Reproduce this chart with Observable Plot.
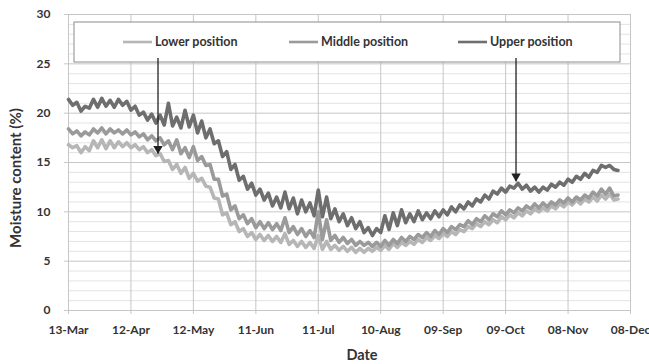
<!DOCTYPE html>
<html><head><meta charset="utf-8">
<script src="https://cdn.jsdelivr.net/npm/d3@7"></script>
<script src="https://cdn.jsdelivr.net/npm/@observablehq/plot@0.6"></script>
<style>
body{margin:0;background:#fff;}
#chart{width:649px;height:364px;overflow:hidden;}
</style></head><body><div id="chart"></div>
<script>
// Readings every 2 days starting 13-Mar
const startDate = "2011-03-13";
const stepDays = 2;
const lower = [16.8,16.5,16.7,16.0,16.6,16.2,17.2,16.5,17.3,16.4,17.2,16.5,17.1,16.6,17.0,16.5,16.8,16.3,16.6,16.0,
16.3,15.7,15.9,15.1,15.2,14.3,14.8,13.9,14.5,13.4,13.9,13.1,13.4,12.6,12.5,11.4,11.3,9.7,9.9,8.7,
9.0,8.0,8.3,7.5,7.9,7.2,7.7,7.1,7.6,7.0,7.5,6.9,7.8,6.7,7.1,6.5,7.0,6.4,6.9,6.3,
7.6,6.2,7.0,6.2,6.6,6.1,6.5,6.0,6.4,5.9,6.3,5.9,6.3,6.0,6.4,6.1,6.6,6.2,6.8,6.4,
6.9,6.6,7.0,6.7,7.2,6.9,7.4,7.1,7.6,7.3,7.8,7.5,8.0,7.7,8.2,8.0,8.5,8.3,8.8,8.5,
9.0,8.7,9.2,8.9,9.5,9.2,9.7,9.4,9.9,9.6,10.1,9.8,10.3,10.0,10.4,10.1,10.6,10.3,10.8,10.5,
11.0,10.7,11.2,10.8,11.3,11.0,11.5,11.1,11.7,11.3,11.8,11.2,11.3];
const middle = [18.4,17.9,18.2,17.7,18.1,17.8,18.4,18.0,18.5,17.9,18.4,18.0,18.3,17.9,18.3,17.8,18.1,17.6,17.9,17.3,
17.7,17.2,17.5,16.8,17.2,16.3,17.3,15.9,16.5,15.5,16.6,15.2,15.6,14.7,14.8,13.3,13.3,11.6,11.8,10.2,
10.6,9.3,9.7,8.8,9.3,8.4,9.0,8.3,8.9,8.2,8.8,8.1,9.4,7.9,8.5,7.7,8.3,7.5,8.1,7.4,
10.0,7.2,9.2,7.1,7.6,6.9,7.4,6.8,7.2,6.6,7.0,6.6,6.9,6.5,6.9,6.5,7.1,6.6,7.2,6.8,
7.4,7.0,7.5,7.2,7.7,7.4,7.9,7.5,8.1,7.7,8.3,7.9,8.5,8.2,8.7,8.5,9.1,8.7,9.3,9.0,
9.6,9.2,9.8,9.5,10.1,9.7,10.2,9.9,10.4,10.1,10.6,10.3,10.8,10.4,10.9,10.5,11.0,10.7,11.2,10.9,
11.4,11.0,11.5,11.2,11.7,11.4,12.0,11.6,12.3,11.8,12.4,11.6,11.7];
const upper = [21.4,20.8,21.1,20.2,20.7,20.5,21.4,20.6,21.5,20.7,21.3,20.6,21.4,20.8,21.2,20.3,20.7,19.8,20.1,19.3,
19.9,19.0,19.8,18.8,21.0,18.7,19.6,18.5,20.3,18.6,19.8,18.0,19.2,17.5,18.4,16.9,17.2,15.6,16.1,14.3,
14.8,13.2,13.6,12.3,12.9,11.7,12.3,11.2,11.9,10.6,11.5,10.4,12.0,10.3,11.4,9.8,11.2,10.0,10.9,9.6,
12.2,9.5,11.5,9.3,10.3,9.0,9.8,8.6,9.4,8.3,9.0,7.9,8.4,7.6,8.3,7.9,9.6,8.2,9.9,8.6,
10.2,8.9,9.8,9.0,10.1,9.2,9.9,9.3,10.1,9.5,10.2,9.7,10.5,10.0,10.7,10.3,11.0,10.6,11.3,11.0,
11.7,11.3,12.1,11.8,12.4,12.0,12.6,12.4,12.9,12.3,12.7,12.1,12.5,12.0,12.5,12.2,12.8,12.5,13.0,12.7,
13.3,13.0,13.6,13.3,13.9,13.5,14.2,14.0,14.7,14.5,14.7,14.3,14.2];
const seriesNames = ["Lower position", "Middle position", "Upper position"];
const seriesColors = ["#b6b6b6", "#9a9a9a", "#6e6e6e"];
const xTickDates = ["2011-03-13","2011-04-12","2011-05-12","2011-06-11","2011-07-11","2011-08-10","2011-09-09","2011-10-09","2011-11-08","2011-12-08"];
const yMajorTicks = [0, 5, 10, 15, 20, 25, 30];
const yMinorTicks = [1,2,3,4,6,7,8,9,11,12,13,14,16,17,18,19,21,22,23,24,26,27,28,29];
const arrowDates = ["2011-04-25", "2011-10-14"];
const arrowFrom = [25.6, 25.6];
const arrowTo = [15.9, 13.1];

const parse = d3.utcParse("%Y-%m-%d");
const t0 = parse(startDate);
const toRows = (vals) => vals.map((v, i) => ({date: d3.utcDay.offset(t0, i * stepDays), value: v}));
const seriesValues = [lower, middle, upper];
const tickDates = xTickDates.map(parse);
const arrows = arrowDates.map((d, i) => ({date: parse(d), y1: arrowFrom[i], y2: arrowTo[i]}));

const svg = Plot.plot({
  width: 649, height: 364,
  marginLeft: 68, marginRight: 19, marginTop: 14, marginBottom: 54,
  style: {fontFamily: "Lato, sans-serif", fontSize: "12px", fontWeight: "bold", color: "#333", background: "#fff"},
  x: {type: "utc", domain: [tickDates[0], tickDates[tickDates.length - 1]], ticks: tickDates,
      tickFormat: d3.utcFormat("%d-%b"), tickSize: 4, tickPadding: 11, label: null},
  y: {domain: [0, 30], ticks: yMajorTicks, tickSize: 4, tickPadding: 14, label: null},
  marks: [
    Plot.ruleY(yMinorTicks, {stroke: "#e3e3e3", strokeWidth: 1}),
    Plot.ruleY(yMajorTicks, {stroke: "#c6c6c6", strokeWidth: 1}),
    Plot.ruleX(tickDates, {stroke: "#c6c6c6", strokeWidth: 1}),
    ...seriesValues.map((vals, i) => Plot.line(toRows(vals), {x: "date", y: "value", stroke: seriesColors[i], strokeWidth: 3.6, strokeLinejoin: "round"})),
    Plot.link(arrows, {x1: "date", x2: "date", y1: "y1", y2: "y2", stroke: "#222", strokeWidth: 1.3}),
    Plot.dot(arrows, {x: "date", y: "y2", symbol: "triangle", rotate: 180, r: 3.5, dy: -5, fill: "#222", stroke: "none"})
  ]
});

d3.select(svg).selectAll("[aria-label^='x-axis tick'] path, [aria-label^='y-axis tick'] path").attr("stroke", "#c6c6c6");

// Legend box (inserted beneath the arrow marks)
const ns = "http://www.w3.org/2000/svg";
const kids = svg.children;
const before = kids[kids.length - 2];
const lg = d3.select(svg.insertBefore(document.createElementNS(ns, "g"), before));
lg.append("rect").attr("x", 74).attr("y", 22).attr("width", 546).attr("height", 40)
  .attr("fill", "#fff").attr("stroke", "#8c8c8c").attr("stroke-width", 1);
const legendX = [123, 289, 458];
seriesNames.forEach((name, i) => {
  lg.append("line").attr("x1", legendX[i]).attr("x2", legendX[i] + 29).attr("y1", 42).attr("y2", 42)
    .attr("stroke", seriesColors[i]).attr("stroke-width", 2.6);
  lg.append("text").attr("x", legendX[i] + 32).attr("y", 42).attr("dy", "0.35em").attr("text-anchor", "start")
    .attr("fill", "#333").attr("font-family", "Lato, sans-serif").attr("font-weight", "bold").attr("font-size", 12.5)
    .text(name);
});

// Axis titles
const s = d3.select(svg);
s.append("text").attr("x", 362).attr("y", 355).attr("dy", "0.35em").attr("text-anchor", "middle")
  .attr("fill", "#333").attr("font-family", "Lato, sans-serif").attr("font-weight", "bold").attr("font-size", 14.5)
  .text("Date");
s.append("text").attr("transform", "translate(16,178) rotate(-90)").attr("dy", "0.35em").attr("text-anchor", "middle")
  .attr("fill", "#333").attr("font-family", "Lato, sans-serif").attr("font-weight", "bold").attr("font-size", 15)
  .text("Moisture content (%)");

document.getElementById("chart").appendChild(svg);
</script></body></html>
